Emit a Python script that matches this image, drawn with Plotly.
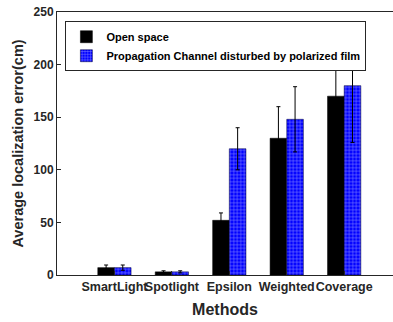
import plotly.graph_objects as go

methods = ["SmartLight", "Spotlight", "Epsilon", "Weighted", "Coverage"]
open_space = [7, 3, 52, 130, 170]
open_err = [2.5, 1, 7, 30, 50]
polarized = [7, 3, 120, 148, 180]
polarized_err = [2.5, 1, 20, 31, 54]
yticks = [0, 50, 100, 150, 200, 250]

xpos = list(range(1, len(methods) + 1))
font = "Liberation Sans, Arial, sans-serif"

fig = go.Figure()
fig.add_trace(go.Bar(
    x=xpos, y=open_space, name="<b>Open space</b>",
    marker=dict(color="black", line=dict(color="black", width=0.5)),
    error_y=dict(type="data", array=open_err, color="black", thickness=1, width=2),
))
fig.add_trace(go.Bar(
    x=xpos, y=polarized, name="<b>Propagation Channel disturbed by polarized film</b>",
    marker=dict(color="#0000ff", line=dict(color="#000033", width=0.5),
                pattern=dict(shape="+", fgcolor="white", bgcolor="#0000ff", size=3.5, solidity=0.3)),
    error_y=dict(type="data", array=polarized_err, color="black", thickness=1, width=2),
))

fig.update_layout(
    width=393, height=322,
    margin=dict(l=57, r=0, t=12, b=47),
    paper_bgcolor="white", plot_bgcolor="white",
    barmode="group", bargap=0.42, bargroupgap=0,
    font=dict(family=font, color="#262626", size=12),
    showlegend=True,
    legend=dict(
        x=0.025, y=0.965, xanchor="left", yanchor="top",
        bgcolor="white", bordercolor="#262626", borderwidth=1,
        font=dict(family=font, size=11, color="black"),
        tracegroupgap=0, itemwidth=30,
    ),
    xaxis=dict(
        range=[0, 5.85], tickvals=xpos, ticktext=["<b>%s</b>" % m for m in methods],
        tickangle=0,
        showline=True, linecolor="#262626", linewidth=1, mirror=True,
        ticks="inside", ticklen=4, tickcolor="#262626",
        showgrid=False, zeroline=False,
        tickfont=dict(size=12.5, color="#262626"),
        title=dict(text="<b>Methods</b>", font=dict(size=16, color="#262626"), standoff=10),
    ),
    yaxis=dict(
        range=[0, 250], tickvals=yticks, ticktext=["<b>%d</b>" % v for v in yticks],
        showline=True, linecolor="#262626", linewidth=1, mirror=True,
        ticks="inside", ticklen=4, tickcolor="#262626",
        showgrid=False, zeroline=False,
        tickfont=dict(size=12, color="#262626"),
        title=dict(text="<b>Average localization error(cm)</b>", font=dict(size=14.5, color="#262626"), standoff=6),
    ),
)

fig.write_html("out.html")
